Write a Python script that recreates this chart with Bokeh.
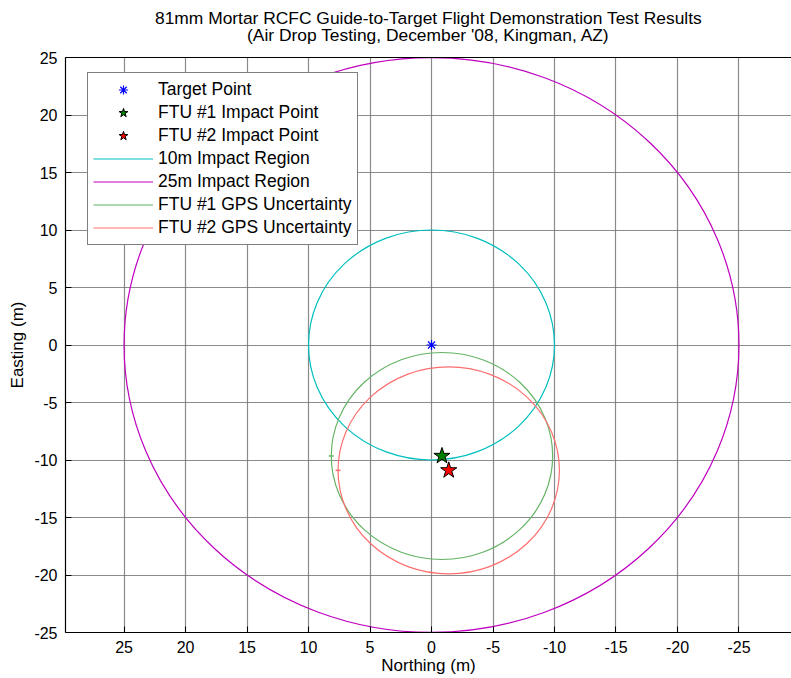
from bokeh.plotting import figure
from bokeh.models import Range1d, FixedTicker, LinearAxis, Legend, LegendItem, Title
from bokeh.embed import file_html
from bokeh.resources import INLINE

# ---- data ----
title_lines = ["81mm Mortar RCFC Guide-to-Target Flight Demonstration Test Results",
               "(Air Drop Testing, December '08, Kingman, AZ)"]
tick_values = [25, 20, 15, 10, 5, 0, -5, -10, -15, -20, -25]
tick_labels = ["25", "20", "15", "10", "5", "0", "-5", "-10", "-15", "-20", "-25"]

target_north = [0.0]
target_east = [0.0]

impact_labels = ["FTU #1 Impact Point", "FTU #2 Impact Point"]
impact_north = [-0.85, -1.4]
impact_east = [-9.65, -10.9]
impact_colors = ["#008000", "#ff0000"]

region_labels = ["10m Impact Region", "25m Impact Region"]
region_radius = [10.0, 25.0]
region_colors = ["#00bfbf", "#bf00bf"]

gps_labels = ["FTU #1 GPS Uncertainty", "FTU #2 GPS Uncertainty"]
gps_radius = [9.0, 9.0]
gps_colors = ["#64b464", "#ff6e6e"]

FONT = "Liberation Sans"
NAN = float("nan")
TITLE_SIZE = "17.4px"

p = figure(width=791, height=678, output_backend="svg", toolbar_location=None, title=None,
           x_range=Range1d(29.76, -29.27), y_range=Range1d(-25, 25),
           min_border_left=65, min_border_right=0, min_border_top=57, min_border_bottom=46)
p.background_fill_color = "white"
p.border_fill_color = "white"
p.outline_line_color = None

ticker = FixedTicker(ticks=tick_values)
overrides = {v: s for v, s in zip(tick_values, tick_labels)}

for ax in (p.xaxis[0], p.yaxis[0]):
    ax.ticker = ticker
    ax.major_label_overrides = overrides
    ax.minor_tick_line_color = None
    ax.major_tick_in = 6
    ax.major_tick_out = 0
    ax.axis_line_color = "black"
    ax.axis_line_width = 1.2
    ax.major_tick_line_color = "black"
    ax.major_label_text_font = FONT
    ax.major_label_text_font_size = "16px"
    ax.major_label_text_color = "black"
    ax.axis_label_text_font = FONT
    ax.axis_label_text_font_size = "17px"
    ax.axis_label_text_font_style = "normal"
    ax.axis_label_text_color = "black"

p.xaxis.axis_label = "Northing (m)"
p.yaxis.axis_label = "Easting (m)"
p.xaxis.major_label_standoff = 8
p.xaxis.axis_label_standoff = 0
p.yaxis.major_label_standoff = 8
p.yaxis.axis_label_standoff = 4

# top border of the axes box; its (centred) axis label carries the second title line
top = LinearAxis(ticker=FixedTicker(ticks=[]), major_label_standoff=0,
                 major_tick_in=0, major_tick_out=0, minor_tick_line_color=None,
                 axis_line_color="black", axis_line_width=1.2,
                 axis_label=title_lines[1], axis_label_standoff=13,
                 axis_label_text_font=FONT, axis_label_text_font_size=TITLE_SIZE,
                 axis_label_text_font_style="normal", axis_label_text_color="black")
p.add_layout(top, "above")

# first title line
t1 = Title(text=title_lines[0], align="center", text_font=FONT, text_font_size=TITLE_SIZE,
           text_font_style="normal", text_color="black", standoff=-13)
p.add_layout(t1, "above")

p.grid.ticker = ticker
p.grid.grid_line_color = "#6e6e6e"
p.grid.grid_line_alpha = 0.8
p.grid.grid_line_width = 1.2

# impact regions (centered on target)
for r, c in zip(region_radius, region_colors):
    p.ellipse(x=target_north[0], y=target_east[0], width=2 * r, height=2 * r,
              fill_color=None, line_color=c, line_width=1.2)

# GPS uncertainty circles
for n, e, r, c in zip(impact_north, impact_east, gps_radius, gps_colors):
    p.ellipse(x=n, y=e, width=2 * r, height=2 * r, fill_color=None, line_color=c, line_width=1.2)
    p.scatter(x=[n + r], y=[e], marker="dash", size=5, line_color=c, line_width=1.5)

# target point
tgt = p.scatter(x=target_north, y=target_east, marker="asterisk", size=10,
                line_color="#0000ff", line_width=1.2)

# impact points
stars = []
for n, e, c in zip(impact_north, impact_east, impact_colors):
    stars.append(p.scatter(x=[n], y=[e], marker="star", size=17, fill_color=c,
                           line_color="black", line_width=1))

# legend line samples (no visible data)
region_lines = [p.line(x=[NAN], y=[NAN], line_color=c, line_width=1.2) for c in region_colors]
gps_lines = [p.line(x=[NAN], y=[NAN], line_color=c, line_width=1.2) for c in gps_colors]

items = [LegendItem(label="Target Point", renderers=[tgt])]
items += [LegendItem(label=l, renderers=[s]) for l, s in zip(impact_labels, stars)]
items += [LegendItem(label=l, renderers=[r]) for l, r in zip(region_labels, region_lines)]
items += [LegendItem(label=l, renderers=[r]) for l, r in zip(gps_labels, gps_lines)]

legend = Legend(items=items, location=(22, 387), glyph_width=60, glyph_height=23,
                label_height=23, spacing=0, padding=5, label_standoff=5, margin=0,
                label_text_font=FONT, label_text_font_size="17.5px", label_text_color="black",
                border_line_color="black", border_line_width=1,
                background_fill_color="white", background_fill_alpha=1.0)
p.add_layout(legend)

open("out.html", "w").write(file_html(p, INLINE))
